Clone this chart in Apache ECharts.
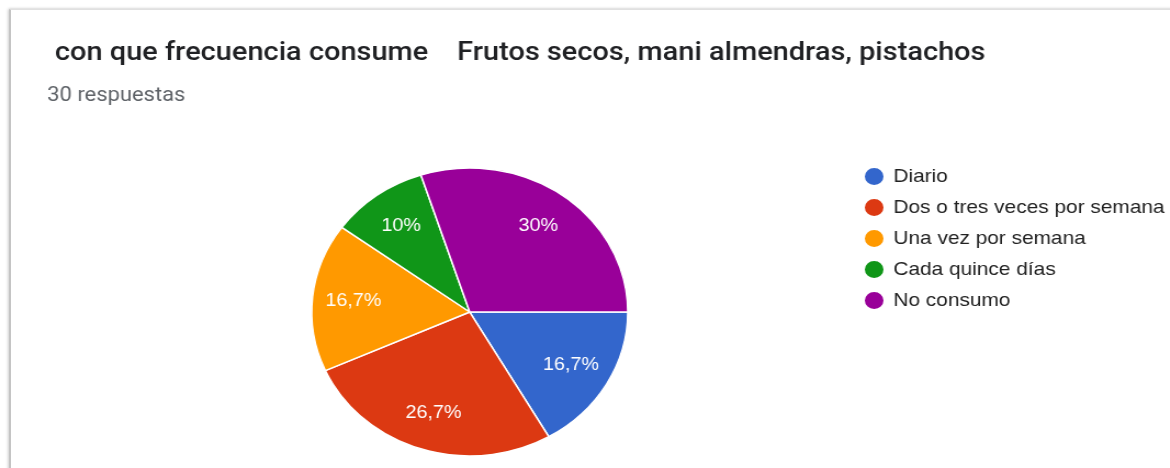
<!DOCTYPE html>
<html>
<head>
<meta charset="utf-8">
<script src="https://cdn.jsdelivr.net/npm/echarts@6/dist/echarts.min.js"></script>
<style>
  html, body { margin: 0; padding: 0; background: #ffffff; overflow: hidden; }
  body { width: 1170px; height: 468px; position: relative; }
  #card {
    position: absolute; left: 9px; top: 9px; width: 1200px; height: 520px;
    background: #ffffff;
    border-left: 2px solid #c4c4c4; border-top: 1px solid #e0e0e0;
    box-shadow: -1px 0 3px rgba(0,0,0,0.18), 0 -1px 2px rgba(0,0,0,0.06);
  }
  /* the chart is laid out at 1066px and widened to the 1170px page */
  #chart {
    position: absolute; left: 0; top: 0; width: 1066px; height: 468px;
    transform: scaleX(1.0975); transform-origin: 0 0;
  }
</style>
</head>
<body>
<div id="card"></div>
<div id="chart"></div>
<script>
// Survey answers: how often nuts are eaten (30 responses)
const titleText = 'con que frecuencia consume    Frutos secos, mani almendras, pistachos';
const subtitleText = '30 respuestas';
const categories = ['Diario', 'Dos o tres veces por semana', 'Una vez por semana', 'Cada quince días', 'No consumo'];
const counts = [5, 8, 5, 3, 9];
const sliceColors = ['#3366cc', '#dc3912', '#ff9900', '#109618', '#990099'];

const total = counts.reduce((a, b) => a + b, 0);
const pieData = categories.map((name, i) => ({ name: name, value: counts[i] }));

// percentage with one decimal and a decimal comma, "10%" rather than "10,0%"
function pctLabel(v) {
  const p = Math.round(v / total * 1000) / 10;
  return String(p).replace('.', ',') + '%';
}

const R = 144;
const CENTER = [428, 312];

const chart = echarts.init(document.getElementById('chart'), null, { renderer: 'canvas' });
chart.setOption({
  backgroundColor: 'transparent',
  animation: false,
  color: sliceColors,
  title: [
    {
      text: titleText, left: 50, top: 40, padding: 0,
      textStyle: { fontFamily: 'Roboto', fontWeight: 500, fontSize: 26.4, lineHeight: 26, color: '#202124' }
    },
    {
      text: subtitleText, left: 43, top: 86, padding: 0,
      textStyle: { fontFamily: 'Roboto', fontWeight: 400, fontSize: 20, lineHeight: 20, color: '#5f6368' }
    }
  ],
  legend: {
    orient: 'vertical', left: 786, top: 166, padding: 0,
    icon: 'circle', itemWidth: 19, itemHeight: 19, itemGap: 10,
    data: categories,
    textStyle: { fontFamily: 'Liberation Sans, Arial', fontSize: 19, lineHeight: 19, color: '#222222', padding: [0, 0, 0, 3] },
    selectedMode: false
  },
  series: [
    {
      // filled slices
      type: 'pie', name: 'slices',
      center: CENTER, radius: [0, R],
      startAngle: 0, clockwise: true,
      data: pieData,
      label: { show: false }, labelLine: { show: false },
      itemStyle: { borderColor: '#ffffff', borderWidth: 1.5 },
      emphasis: { disabled: true }
    },
    {
      // transparent ring that carries the percentage labels further out
      type: 'pie', name: 'labels', silent: true,
      center: CENTER, radius: [Math.round(R * 0.44), R],
      startAngle: 0, clockwise: true,
      data: pieData,
      itemStyle: { color: 'rgba(0,0,0,0)', borderWidth: 0 },
      label: {
        show: true, position: 'inside',
        formatter: p => pctLabel(p.value),
        fontFamily: 'Liberation Sans, Arial', fontSize: 18, color: '#ffffff'
      },
      labelLine: { show: false },
      emphasis: { disabled: true }
    }
  ]
});
</script>
</body>
</html>
